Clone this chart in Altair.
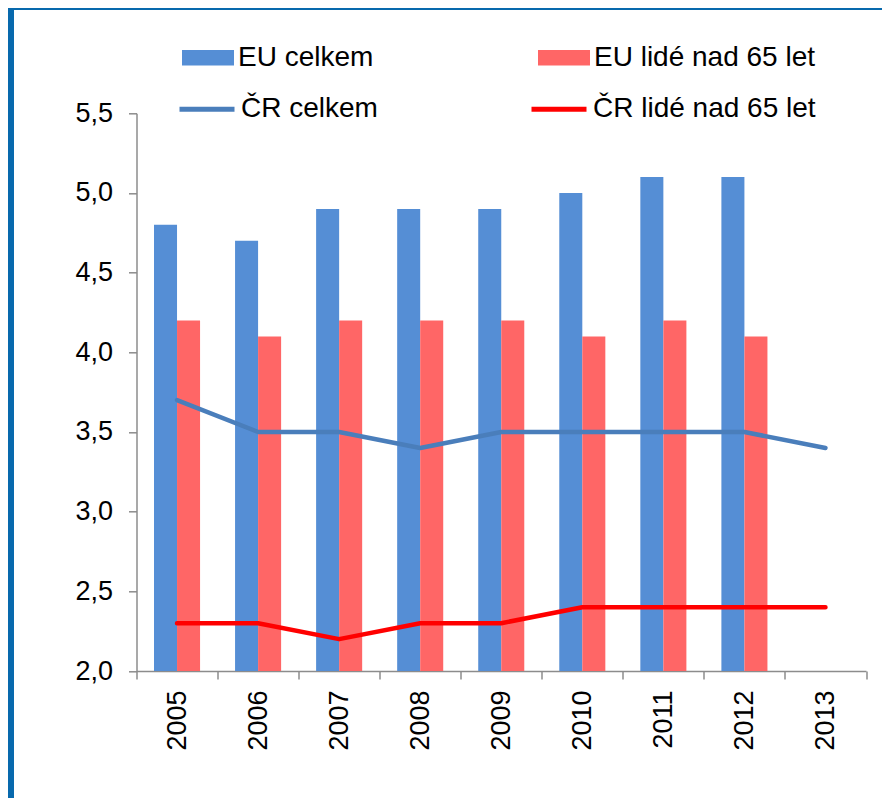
import altair as alt
import pandas as pd

years = ["2005", "2006", "2007", "2008", "2009", "2010", "2011", "2012", "2013"]
eu_total = [4.8, 4.7, 4.9, 4.9, 4.9, 5.0, 5.1, 5.1, None]
eu_65 = [4.2, 4.1, 4.2, 4.2, 4.2, 4.1, 4.2, 4.1, None]
cr_total = [3.7, 3.5, 3.5, 3.4, 3.5, 3.5, 3.5, 3.5, 3.4]
cr_65 = [2.3, 2.3, 2.2, 2.3, 2.3, 2.4, 2.4, 2.4, 2.4]

bar_names = ["EU celkem", "EU lidé nad 65 let"]
line_names = ["ČR celkem", "ČR lidé nad 65 let"]
y_ticks = [2.0, 2.5, 3.0, 3.5, 4.0, 4.5, 5.0, 5.5]

bar_rows = []
for name, vals in zip(bar_names, [eu_total, eu_65]):
    for yr, v in zip(years, vals):
        if v is not None:
            bar_rows.append({"year": yr, "series": name, "value": v})
bars_df = pd.DataFrame(bar_rows)

line_rows = []
for name, vals in zip(line_names, [cr_total, cr_65]):
    for yr, v in zip(years, vals):
        line_rows.append({"year": yr, "series": name, "value": v})
lines_df = pd.DataFrame(line_rows)

FONT = "Liberation Sans"
AXIS_GRAY = "#8c8c8c"
FRAME = "#0869ad"
W, H = 729.5, 557.7
PL, PT, PR, PB = 128.5, 105.3, 16, 127

x_enc = alt.X(
    "year:N",
    sort=years,
    scale=alt.Scale(domain=years, paddingInner=0, paddingOuter=0),
    axis=alt.Axis(
        title=None, labelAngle=-90, labelFont=FONT, labelFontSize=27,
        labelColor="black", tickBand="extent", tickSize=8, labelPadding=11,
        domainColor=AXIS_GRAY, tickColor=AXIS_GRAY, domainWidth=1.5, tickWidth=1.5,
    ),
)
y_enc = alt.Y(
    "value:Q",
    scale=alt.Scale(domain=[2.0, 5.5], nice=False, zero=False),
    axis=alt.Axis(
        title=None, values=y_ticks, grid=False,
        labelExpr="replace(format(datum.value, '.1f'), '.', ',')",
        labelFont=FONT, labelFontSize=27, labelColor="black",
        tickSize=8, labelPadding=16, domainColor=AXIS_GRAY, tickColor=AXIS_GRAY,
        domainWidth=1.5, tickWidth=1.5,
    ),
)

frame_df = pd.DataFrame({"k": [0]})
left_bar = alt.Chart(frame_df).mark_rect(color=FRAME).encode(
    x=alt.value(-PL), x2=alt.value(-PL + 6),
    y=alt.value(-PT), y2=alt.value(H + PB),
)
top_bar = alt.Chart(frame_df).mark_rect(color=FRAME).encode(
    x=alt.value(-PL), x2=alt.value(W + PR),
    y=alt.value(-PT), y2=alt.value(-PT + 2),
)

bars = alt.Chart(bars_df).mark_bar().encode(
    x=x_enc,
    xOffset=alt.XOffset(
        "series:N", sort=bar_names,
        scale=alt.Scale(domain=bar_names, paddingOuter=0.76, paddingInner=0),
    ),
    y=y_enc,
    y2=alt.datum(2.0),
    color=alt.Color(
        "series:N",
        scale=alt.Scale(domain=bar_names, range=["#558ed5", "#ff6666"]),
        legend=alt.Legend(
            title=None, orient="none", legendX=45.5, legendY=-81.5,
            direction="horizontal", columns=2, columnPadding=164,
            symbolType="M-1,-0.3H1V0.3H-1Z", symbolSize=2704,
            symbolStrokeWidth=0, symbolOpacity=1,
            labelFont=FONT, labelFontSize=28, labelFontWeight="normal",
            labelColor="black", labelOffset=4, labelLimit=400, padding=0,
        ),
    ),
)

lines = alt.Chart(lines_df).mark_line(
    strokeWidth=4.5, strokeCap="round", strokeJoin="round"
).encode(
    x=x_enc,
    y=y_enc,
    stroke=alt.Stroke(
        "series:N",
        scale=alt.Scale(domain=line_names, range=["#4a7ebb", "#ff0000"]),
        legend=alt.Legend(
            title=None, orient="none", legendX=40.5, legendY=-34,
            direction="horizontal", columns=2, columnPadding=143,
            symbolType="stroke", symbolSize=3025, symbolStrokeWidth=5,
            labelFont=FONT, labelFontSize=28, labelFontWeight="normal",
            labelColor="black", labelOffset=4, labelLimit=400, padding=0,
        ),
    ),
)

chart = alt.layer(left_bar, top_bar, bars, lines).properties(
    width=W,
    height=H,
    autosize=alt.AutoSizeParams(type="none"),
    padding={"left": PL, "top": PT, "right": PR, "bottom": PB},
    background="white",
).configure_view(stroke=None)

chart.save("out.html", embed_options={"renderer": "svg", "actions": False})
